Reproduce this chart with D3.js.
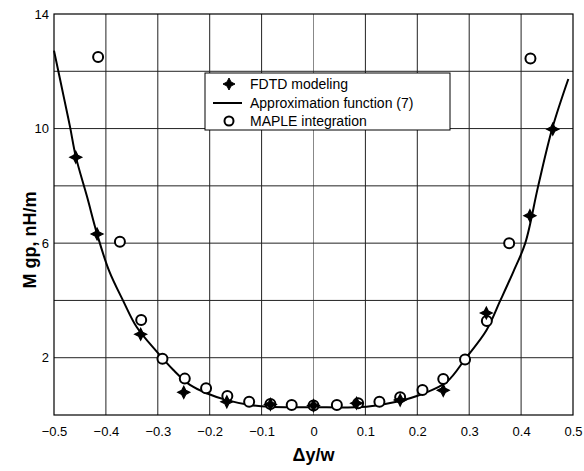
<!DOCTYPE html>
<html>
<head>
<meta charset="utf-8">
<script src="https://cdn.jsdelivr.net/npm/d3@7"></script>
<style>
  body { margin: 0; background: #fff; }
  text { font-family: "Liberation Sans", Arial, sans-serif; fill: #000; }
</style>
</head>
<body>
<svg id="chart"></svg>
<script>
// data
const fdtdX = [-0.458, -0.417, -0.333, -0.25, -0.167, -0.083, 0, 0.083, 0.167, 0.25, 0.333, 0.417, 0.461];
const fdtdY = [9.0, 6.32, 2.82, 0.79, 0.46, 0.37, 0.33, 0.41, 0.52, 0.86, 3.56, 6.96, 9.98];

const mapleX = [-0.415, -0.373, -0.332, -0.291, -0.248, -0.207, -0.166, -0.124, -0.083, -0.042, 0, 0.045, 0.086, 0.127, 0.167, 0.21, 0.25, 0.292, 0.334, 0.377, 0.418];
const mapleY = [12.5, 6.05, 3.32, 1.96, 1.27, 0.93, 0.66, 0.46, 0.38, 0.35, 0.33, 0.35, 0.41, 0.46, 0.62, 0.87, 1.26, 1.94, 3.28, 6.0, 12.45];

const approxX = [-0.5, -0.481, -0.469, -0.458, -0.436, -0.417, -0.394, -0.366, -0.341, -0.302, -0.27, -0.238, -0.206, -0.167, -0.122, -0.084, 0, 0.102, 0.16, 0.212, 0.257, 0.294, 0.333, 0.36, 0.385, 0.408, 0.433, 0.46, 0.491];
const approxY = [12.72, 11.09, 10.05, 9.02, 7.6, 6.32, 5.04, 3.96, 3.08, 2.21, 1.57, 1.05, 0.76, 0.52, 0.35, 0.29, 0.27, 0.29, 0.46, 0.75, 1.16, 2.0, 2.95, 4.0, 5.0, 6.0, 8.0, 10.0, 11.73];

const xTicks = [-0.5, -0.4, -0.3, -0.2, -0.1, 0, 0.1, 0.2, 0.3, 0.4, 0.5];
const yLabelTicks = [2, 6, 10, 14];
const yGridTicks = [2, 4, 6, 8, 10, 12];

const legendItems = ["FDTD modeling", "Approximation function (7)", "MAPLE integration"];

const W = 584, H = 471;
const M = { top: 14, right: 11, bottom: 56, left: 54 };

const svg = d3.select("#chart").attr("width", W).attr("height", H);

const x = d3.scaleLinear().domain([-0.5, 0.5]).range([M.left, W - M.right]);
const y = d3.scaleLinear().domain([0, 14]).range([H - M.bottom, M.top]);

//Gridlines
svg.append("g")
  .selectAll("line")
  .data(xTicks.slice(1, -1))
  .join("line")
  .attr("x1", d => x(d)).attr("x2", d => x(d))
  .attr("y1", y(0)).attr("y2", y(14))
  .attr("stroke", d => d === 0 ? "#888" : "#222")
  .attr("stroke-width", 1);

svg.append("g")
  .selectAll("line")
  .data(yGridTicks)
  .join("line")
  .attr("x1", x(-0.5)).attr("x2", x(0.5))
  .attr("y1", d => y(d)).attr("y2", d => y(d))
  .attr("stroke", "#222")
  .attr("stroke-width", 1);

//Frame
svg.append("rect")
  .attr("x", x(-0.5)).attr("y", y(14))
  .attr("width", x(0.5) - x(-0.5)).attr("height", y(0) - y(14))
  .attr("fill", "none").attr("stroke", "#000").attr("stroke-width", 1.2);

//Axes (labels only, the frame draws the lines)
const xAxis = svg.append("g")
  .attr("transform", `translate(0,${y(0)})`)
  .call(d3.axisBottom(x).tickValues(xTicks).tickSize(0).tickPadding(12)
    .tickFormat(d => d === 0 ? "0" : d3.format(".1f")(d)));
xAxis.select(".domain").remove();
xAxis.selectAll("text").attr("font-size", 13).attr("font-family", "Liberation Sans, Arial, sans-serif");

const yAxis = svg.append("g")
  .attr("transform", `translate(${x(-0.5)},0)`)
  .call(d3.axisLeft(y).tickValues(yLabelTicks).tickSize(0).tickPadding(5));
yAxis.select(".domain").remove();
yAxis.selectAll("text").attr("font-size", 13).attr("font-family", "Liberation Sans, Arial, sans-serif");

//Axis titles
svg.append("text")
  .attr("x", (x(-0.5) + x(0.5)) / 2)
  .attr("y", 461)
  .attr("text-anchor", "middle")
  .attr("font-size", 18)
  .attr("font-weight", "bold")
  .text("\u0394y/w");

svg.append("text")
  .attr("transform", "translate(36,240) rotate(-90)")
  .attr("text-anchor", "middle")
  .attr("font-size", 18)
  .attr("font-weight", "bold")
  .text("M gp, nH/m");

//Approximation curve
const line = d3.line()
  .x(d => x(d[0]))
  .y(d => y(d[1]))
  .curve(d3.curveCatmullRom.alpha(0.5));

svg.append("path")
  .datum(approxX.map((v, i) => [v, approxY[i]]))
  .attr("d", line)
  .attr("fill", "none")
  .attr("stroke", "#000")
  .attr("stroke-width", 2);

//MAPLE circles
svg.append("g")
  .selectAll("circle")
  .data(mapleX.map((v, i) => [v, mapleY[i]]))
  .join("circle")
  .attr("cx", d => x(d[0]))
  .attr("cy", d => y(d[1]))
  .attr("r", 5)
  .attr("fill", "#fff")
  .attr("stroke", "#000")
  .attr("stroke-width", 2);

//FDTD stars
const star = "M0,-6 L2,-2 L6,0 L2,2 L0,6 L-2,2 L-6,0 L-2,-2 Z";
svg.append("g")
  .selectAll("path")
  .data(fdtdX.map((v, i) => [v, fdtdY[i]]))
  .join("path")
  .attr("transform", d => `translate(${x(d[0])},${y(d[1])})`)
  .attr("d", star)
  .attr("fill", "#000")
  .attr("stroke", "#000")
  .attr("stroke-width", 1.2);

//Legend
const lg = svg.append("g").attr("transform", "translate(205,73)");
lg.append("rect")
  .attr("width", 245).attr("height", 57)
  .attr("fill", "#fff").attr("stroke", "#000").attr("stroke-width", 1);

const rows = [11, 30, 48];
lg.append("path")
  .attr("transform", `translate(24,${rows[0]})`)
  .attr("d", star).attr("fill", "#000").attr("stroke", "#000");
lg.append("line")
  .attr("x1", 8).attr("x2", 37)
  .attr("y1", rows[1]).attr("y2", rows[1])
  .attr("stroke", "#000").attr("stroke-width", 2);
lg.append("circle")
  .attr("cx", 24).attr("cy", rows[2]).attr("r", 4.5)
  .attr("fill", "#fff").attr("stroke", "#000").attr("stroke-width", 2);

lg.selectAll("text.item")
  .data(legendItems)
  .join("text")
  .attr("class", "item")
  .attr("x", 45)
  .attr("y", (d, i) => rows[i] + 5)
  .attr("font-size", 14)
  .text(d => d);
</script>
</body>
</html>
